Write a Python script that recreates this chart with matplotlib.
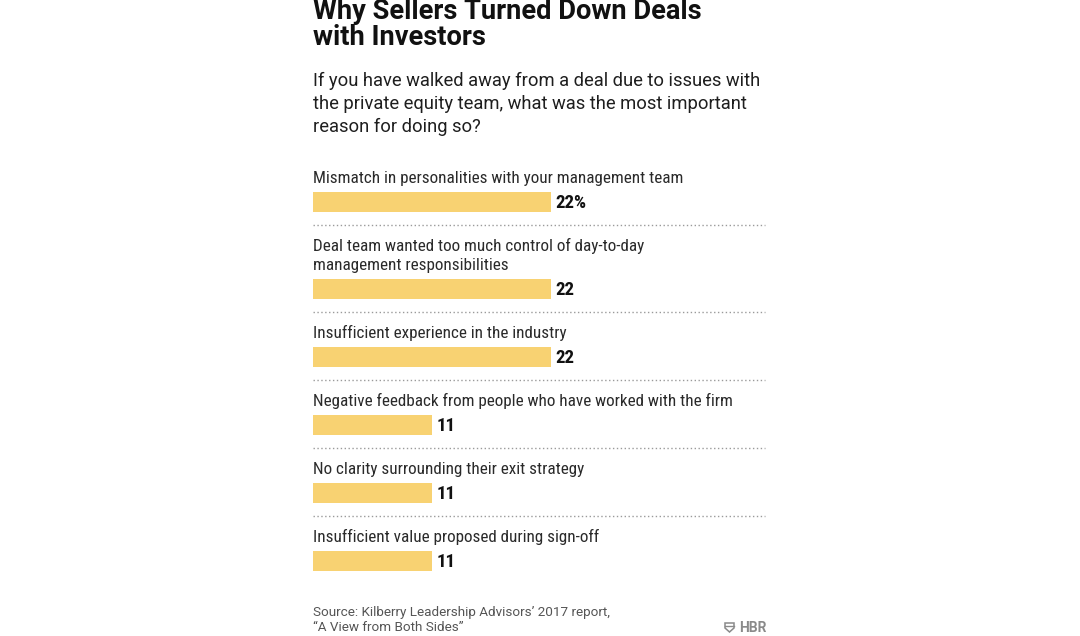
import matplotlib
matplotlib.use("Agg")
import matplotlib.pyplot as plt
from matplotlib.patches import Polygon

W, H = 1080, 636

title_lines = ["Why Sellers Turned Down Deals", "with Investors"]
subtitle_lines = ["If you have walked away from a deal due to issues with",
                  "the private equity team, what was the most important",
                  "reason for doing so?"]
categories = [
    ["Mismatch in personalities with your management team"],
    ["Deal team wanted too much control of day-to-day", "management responsibilities"],
    ["Insufficient experience in the industry"],
    ["Negative feedback from people who have worked with the firm"],
    ["No clarity surrounding their exit strategy"],
    ["Insufficient value proposed during sign-off"],
]
values = [22, 22, 22, 11, 11, 11]
value_labels = ["22%", "22", "22", "11", "11", "11"]
source_lines = ["Source: Kilberry Leadership Advisors\u2019 2017 report,",
                "\u201cA View from Both Sides\u201d"]

BAR = "#F8D272"
HEAD_FONT = ["Roboto", "DejaVu Sans"]
LABEL_FONT = ["Roboto Condensed", "DejaVu Sans"]

fig = plt.figure(figsize=(W / 100, H / 100), dpi=100)
fig.patch.set_facecolor("white")
renderer = fig.canvas.get_renderer()


def px(x, y):
    return x / W, 1 - y / H


def fit_size(text, target_w, **kw):
    t = fig.text(0, 0, text, fontsize=10, **kw)
    w = t.get_window_extent(renderer).width
    t.remove()
    return 10 * target_w / w


# title
ts = fit_size(title_lines[0], 389, family=HEAD_FONT, fontweight="bold")
for i, line in enumerate(title_lines):
    fig.text(*px(313, 19 + 26 * i), line, fontsize=ts, family=HEAD_FONT,
             fontweight="bold", color="#111111", va="baseline", ha="left")

# subtitle
ss = fit_size(subtitle_lines[0], 449, family=HEAD_FONT)
for i, line in enumerate(subtitle_lines):
    fig.text(*px(313, 86 + 23 * i), line, fontsize=ss, family=HEAD_FONT,
             color="#1e1e1e", va="baseline", ha="left")

# source
srcs = fit_size(source_lines[0], 297, family=HEAD_FONT)
for i, line in enumerate(source_lines):
    fig.text(*px(313, 616 + 15 * i), line, fontsize=srcs, family=HEAD_FONT,
             color="#555555", va="baseline", ha="left")

# HBR logo
fig.text(*px(766, 632), "HBR", fontsize=10, family=HEAD_FONT, fontweight="bold",
         color="#8a8a8a", va="baseline", ha="right")
sx, sy = 729.5, 627.5
fig.patches.append(Polygon([px(sx - 4.5, sy - 4.5), px(sx + 4.5, sy - 4.5),
                            px(sx + 4.5, sy + 0.5), px(sx, sy + 4.5),
                            px(sx - 4.5, sy + 0.5)], closed=True,
                           transform=fig.transFigure, facecolor="none",
                           edgecolor="#8a8a8a", lw=1.1))
fig.lines.append(plt.Line2D([px(sx - 4.5, 0)[0], px(sx + 4.5, 0)[0]],
                            [px(0, sy - 2)[1]] * 2, transform=fig.transFigure,
                            color="#8a8a8a", lw=1.0))

# bar axes: x in data units, y in pixel rows
ax = fig.add_axes([313 / W, 0, 452 / W, 1])
ax.set_ylim(H, 0)
XMAX = 452 / 10.8
ax.set_xlim(0, XMAX)
ax.axis("off")

ls = fit_size(categories[0][0], 368, family=LABEL_FONT)
vs = fit_size(value_labels[0], 31, family=LABEL_FONT, fontweight="bold")

baseline = 183
bar_y, seps = [], []
for i, lines in enumerate(categories):
    for j, line in enumerate(lines):
        ax.text(0, baseline + 19 * j, line, fontsize=ls, family=LABEL_FONT,
                color="#2a2a2a", va="baseline", ha="left")
    b = baseline + 19 * (len(lines) - 1) + 19
    bar_y.append(b)
    s = b + 23
    if i < len(categories) - 1:
        seps.append(s)
    baseline = s + 26

ax.barh(bar_y, values, height=20, color=BAR, edgecolor="none")
for v, lab, b in zip(values, value_labels, bar_y):
    ax.text(v + 0.45, b + 6, lab, fontsize=vs, family=LABEL_FONT, fontweight="bold",
            color="#111111", va="baseline", ha="left")
for s in seps:
    ax.plot([0, XMAX], [s, s], color="#9a9a9a", lw=1.0,
            linestyle=(0, (1.0, 1.8)), clip_on=False)

fig.savefig("out.png", dpi=100, facecolor="white")
